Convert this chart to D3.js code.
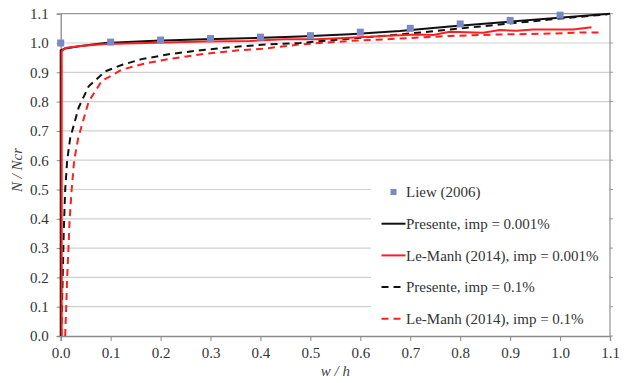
<!DOCTYPE html>
<html><head><meta charset="utf-8">
<script src="https://cdn.jsdelivr.net/npm/d3@7/dist/d3.min.js"></script>
<style>body{margin:0;background:#fff}svg{display:block}</style>
</head><body>
<svg id="c" width="629" height="383"></svg>
<script>
const xTicks = [0,0.1,0.2,0.3,0.4,0.5,0.6,0.7,0.8,0.9,1.0,1.1];
const yTicks = [0,0.1,0.2,0.3,0.4,0.5,0.6,0.7,0.8,0.9,1.0,1.1];

const liewX = [0,0.1,0.2,0.3,0.4,0.5,0.6,0.7,0.8,0.9,1.0];
const liewY = [1.0,1.003,1.01,1.015,1.02,1.025,1.037,1.05,1.065,1.077,1.095];

const presX1 = [0,0,0.009,0.04,0.089,0.189,0.289,0.403,0.479,0.579,0.679,0.779,0.879,0.979,1.1];
const presY1 = [0,0.975,0.981,0.99,1.0,1.008,1.013,1.018,1.022,1.03,1.041,1.056,1.07,1.084,1.1];

const lmX1 = [0.002,0.002,0.009,0.04,0.089,0.189,0.289,0.379,0.446,0.513,0.579,0.646,0.713,0.746,0.779,0.846,0.879,0.913,0.946,1.026,1.063];
const lmY1 = [0,0.972,0.983,0.99,0.997,1.001,1.005,1.007,1.013,1.013,1.018,1.024,1.029,1.027,1.038,1.035,1.044,1.042,1.046,1.046,1.054];

const presX2 = [0.001,0.004,0.006,0.009,0.013,0.019,0.036,0.056,0.089,0.122,0.162,0.222,0.289,0.356,0.403,0.479,0.579,0.679,0.779,0.879,0.979,1.095];
const presY2 = [0,0.2,0.35,0.5,0.6,0.675,0.78,0.852,0.903,0.925,0.945,0.963,0.977,0.988,0.994,1.0,1.015,1.029,1.046,1.063,1.08,1.098];

const lmX2 = [0.009,0.013,0.018,0.022,0.027,0.035,0.056,0.082,0.122,0.169,0.222,0.289,0.356,0.403,0.479,0.579,0.679,0.779,0.879,0.979,1.04,1.085];
const lmY2 = [0,0.2,0.4,0.5,0.6,0.675,0.8,0.87,0.909,0.93,0.947,0.963,0.975,0.98,0.995,1.007,1.015,1.024,1.029,1.032,1.036,1.036];

const legendLabels = ["Liew (2006)","Presente, imp = 0.001%","Le-Manh (2014), imp = 0.001%","Presente, imp = 0.1%","Le-Manh (2014), imp = 0.1%"];

const RED = "#ff1f1f", BLUE = "#7b88c6";
const font = "'Liberation Serif','Times New Roman',serif";

const svg = d3.select("#c");
const L = 60.7, R = 610, T = 13.7, B = 336;
const x = d3.scaleLinear().domain([0,1.1]).range([L,R]);
const y = d3.scaleLinear().domain([0,1.1]).range([B,T]);

// gridlines
svg.append("g").selectAll("line").data(yTicks.slice(1)).join("line")
  .attr("x1",L).attr("x2",R).attr("y1",d=>y(d)).attr("y2",d=>y(d))
  .attr("stroke", d=> d===1.1 ? "#9a9a9a" : "#cfcfcf").attr("stroke-width",1.2);

// axes
const xa = svg.append("g").attr("transform",`translate(0,${B})`)
  .call(d3.axisBottom(x).tickValues(xTicks).tickFormat(d3.format(".1f")).tickSize(5).tickPadding(6));
const ya = svg.append("g").attr("transform",`translate(${L},0)`)
  .call(d3.axisLeft(y).tickValues(yTicks).tickFormat(d3.format(".1f")).tickSize(4).tickPadding(8));
[xa,ya].forEach(a=>{
  a.select(".domain").attr("stroke","#8a8a8a").attr("stroke-width",1.3);
  a.selectAll(".tick line").attr("stroke","#8a8a8a");
  a.selectAll("text").attr("font-family",font).attr("font-size",15).attr("fill","#333");
});
// right border
svg.append("line").attr("x1",R).attr("x2",R).attr("y1",T).attr("y2",B)
  .attr("stroke","#9a9a9a").attr("stroke-width",1.3);
svg.append("g").selectAll("line").data(yTicks).join("line")
  .attr("x1",R).attr("x2",R+3).attr("y1",d=>y(d)).attr("y2",d=>y(d)).attr("stroke","#9a9a9a");

// legend background
svg.append("rect").attr("x",371).attr("y",174).attr("width",R-371-1).attr("height",156).attr("fill","#fff");

const line = d3.line().x(d=>x(d[0])).y(d=>y(d[1]));
const zip = (a,b)=>a.map((v,i)=>[v,b[i]]);

svg.append("path").datum(zip(lmX2,lmY2)).attr("d",line).attr("fill","none")
  .attr("stroke",RED).attr("stroke-width",2).attr("stroke-dasharray","7,5");
svg.append("path").datum(zip(presX2,presY2)).attr("d",line).attr("fill","none")
  .attr("stroke","#111").attr("stroke-width",2).attr("stroke-dasharray","7,5");
svg.append("path").datum(zip(presX1,presY1)).attr("d",line).attr("fill","none")
  .attr("stroke","#111").attr("stroke-width",2);
svg.append("path").datum(zip(lmX1,lmY1)).attr("d",line).attr("fill","none")
  .attr("stroke",RED).attr("stroke-width",2);

svg.append("g").selectAll("rect").data(zip(liewX,liewY)).join("rect")
  .attr("x",d=>x(d[0])-3.5).attr("y",d=>y(d[1])-3.5).attr("width",7).attr("height",7)
  .attr("fill",BLUE);

// legend
const ly0 = 192, ldy = 31.7;
const styles = [
  {type:"sq"},
  {type:"ln",c:"#111",dash:null},
  {type:"ln",c:RED,dash:null},
  {type:"ln",c:"#111",dash:"7,5"},
  {type:"ln",c:RED,dash:"7,5"}
];
const lg = svg.append("g");
legendLabels.forEach((t,i)=>{
  const yy = ly0 + i*ldy;
  const s = styles[i];
  if(s.type==="sq"){
    lg.append("rect").attr("x",390.5).attr("y",yy-3).attr("width",6).attr("height",6).attr("fill",BLUE);
  } else {
    const l = lg.append("line").attr("x1",381.5).attr("x2",405.5).attr("y1",yy).attr("y2",yy)
      .attr("stroke",s.c).attr("stroke-width",2);
    if(s.dash) l.attr("stroke-dasharray",s.dash);
  }
  lg.append("text").attr("x",406).attr("y",yy).attr("dy","0.35em")
    .attr("font-family",font).attr("font-size",15).attr("fill","#333").text(t);
});

// axis titles
svg.append("text").attr("x",(L+R)/2).attr("y",376).attr("text-anchor","middle")
  .attr("font-family",font).attr("font-style","italic").attr("font-size",15).attr("fill","#444").text("w / h");
svg.append("text").attr("transform","translate(22,170) rotate(-90)").attr("text-anchor","middle")
  .attr("font-family",font).attr("font-style","italic").attr("font-size",15).attr("fill","#444").text("N / Ncr");
</script>
</body></html>
